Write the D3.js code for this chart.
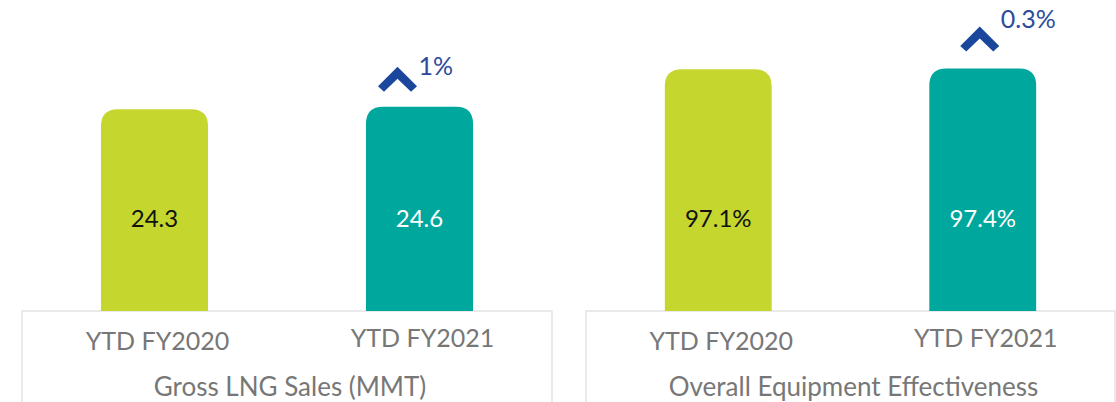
<!DOCTYPE html>
<html>
<head>
<meta charset="utf-8">
<script src="https://cdn.jsdelivr.net/npm/d3@7"></script>
<style>
  html, body { margin: 0; padding: 0; background: #fff; }
  svg { display: block; font-family: Lato, "Open Sans", sans-serif; }
</style>
</head>
<body>
<svg width="1116" height="402"></svg>
<script>
// chart data
var panelTitles = ["Gross LNG Sales (MMT)", "Overall Equipment Effectiveness"];
var categories = ["YTD FY2020", "YTD FY2021"];
var lngSales = [24.3, 24.6];
var oeeValues = [97.1, 97.4];
var valueLabels = [["24.3", "24.6"], ["97.1%", "97.4%"]];
var changeLabels = ["1%", "0.3%"];
var axisMax = [30, 100];

var colors = ["#c5d62e", "#00a79d"];
var labelColors = ["#111", "#fff"];

var svg = d3.select("svg");

var baseY = 311,
    topY = 62;

// panel frames + where the change arrow sits relative to the last bar
var panels = [
  { x0: 22, x1: 552, values: lngSales, arrowDx: -22, arrowDy: -27.5, textDy: -32 },
  { x0: 586, x1: 1115, values: oeeValues, arrowDx: -3, arrowDy: -29.5, textDy: -40 }
];

// rounded-top bar path
function barPath(x, y, w, h, r) {
  return "M" + x + "," + (y + h) +
    "V" + (y + r) +
    "Q" + x + "," + y + " " + (x + r) + "," + y +
    "H" + (x + w - r) +
    "Q" + (x + w) + "," + y + " " + (x + w) + "," + (y + r) +
    "V" + (y + h) + "Z";
}

panels.forEach(function(p, pi) {
  var g = svg.append("g").attr("class", "panel");

  var x = d3.scaleBand()
    .domain(categories)
    .range([p.x0, p.x1])
    .paddingInner(0.596)
    .paddingOuter(0.298);

  var y = d3.scaleLinear()
    .domain([0, axisMax[pi]])
    .range([baseY, topY]);

  // frame (no bottom edge)
  g.append("path")
    .attr("d", "M" + p.x0 + ",402V" + baseY + "H" + p.x1 + "V402")
    .attr("fill", "none")
    .attr("stroke", "#e4e4e4")
    .attr("stroke-width", 1.5);

  // bars
  g.selectAll("path.bar")
    .data(p.values)
    .enter().append("path")
      .attr("class", "bar")
      .attr("fill", function(d, i) { return colors[i]; })
      .attr("d", function(d, i) {
        return barPath(x(categories[i]), y(d), x.bandwidth(), baseY - y(d), 17);
      });

  // value labels inside bars
  g.selectAll("text.val")
    .data(p.values)
    .enter().append("text")
      .attr("class", "val")
      .attr("x", function(d, i) { return x(categories[i]) + x.bandwidth() / 2; })
      .attr("y", 227)
      .attr("text-anchor", "middle")
      .attr("font-size", 24)
      .attr("fill", function(d, i) { return labelColors[i]; })
      .text(function(d, i) { return valueLabels[pi][i]; });

  // category labels
  g.selectAll("text.cat")
    .data(categories)
    .enter().append("text")
      .attr("class", "cat")
      .attr("x", function(d) { return x(d) + x.bandwidth() / 2 + 3; })
      .attr("y", function(d, i) { return i === 0 ? 350 : 347; })
      .attr("text-anchor", "middle")
      .attr("font-size", 25)
      .attr("fill", "#777")
      .text(function(d) { return d; });

  // panel title
  g.append("text")
    .attr("x", (p.x0 + p.x1) / 2 + 3)
    .attr("y", 396)
    .attr("text-anchor", "middle")
    .attr("font-size", 26)
    .attr("fill", "#777")
    .text(panelTitles[pi]);

  // change indicator on the latest bar
  var last = p.values.length - 1;
  var top = y(p.values[last]);
  var cx = x(categories[last]) + x.bandwidth() / 2 + p.arrowDx;
  var cy = top + p.arrowDy;
  g.append("polygon")
    .attr("points", [[0, -12.5], [19.5, 7], [13.5, 12.5], [0, -0.5], [-13.5, 12.5], [-19.5, 7]]
      .map(function(pt) { return (cx + pt[0]) + "," + (cy + pt[1]); }).join(" "))
    .attr("fill", "#1a479c");

  g.append("text")
    .attr("x", cx + 21)
    .attr("y", top + p.textDy)
    .attr("font-size", 25)
    .attr("fill", "#2c4c9b")
    .text(changeLabels[pi]);
});
</script>
</body>
</html>
